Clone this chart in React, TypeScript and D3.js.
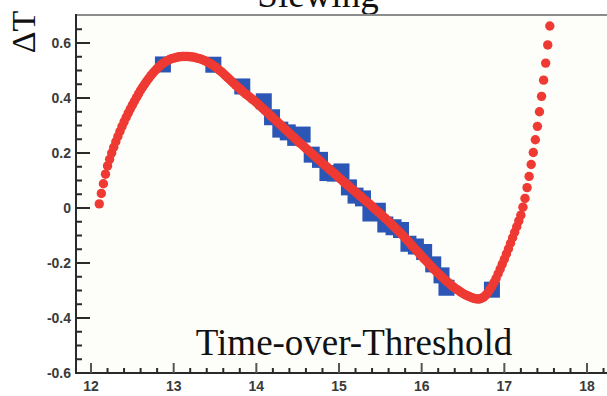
import React from "react";
import * as d3 from "d3";

// Red fitted curve (x = Time-over-Threshold, y = ΔT)
const redPoints: [number, number][] = [
  [12.1, 0.015], [12.125, 0.053], [12.15, 0.088], [12.175, 0.123],
  [12.2, 0.153], [12.225, 0.177], [12.25, 0.2], [12.275, 0.221],
  [12.3, 0.241], [12.325, 0.26], [12.35, 0.278], [12.375, 0.296],
  [12.4, 0.313], [12.425, 0.329], [12.45, 0.345], [12.475, 0.36],
  [12.5, 0.374], [12.525, 0.388], [12.55, 0.402], [12.575, 0.415],
  [12.6, 0.428], [12.625, 0.44], [12.65, 0.451], [12.675, 0.462],
  [12.7, 0.472], [12.725, 0.482], [12.75, 0.491], [12.775, 0.499],
  [12.8, 0.507], [12.825, 0.514], [12.85, 0.521], [12.875, 0.527],
  [12.9, 0.532], [12.925, 0.536], [12.95, 0.54], [12.975, 0.543],
  [13.0, 0.545], [13.025, 0.547], [13.05, 0.549], [13.075, 0.55],
  [13.1, 0.551], [13.125, 0.551], [13.15, 0.551], [13.175, 0.551],
  [13.2, 0.55], [13.225, 0.549], [13.25, 0.548], [13.275, 0.546],
  [13.3, 0.544], [13.325, 0.542], [13.35, 0.539], [13.375, 0.536],
  [13.4, 0.532], [13.425, 0.528], [13.45, 0.524], [13.475, 0.519],
  [13.5, 0.514], [13.525, 0.508], [13.55, 0.502], [13.575, 0.496],
  [13.6, 0.489], [13.625, 0.482], [13.65, 0.475], [13.675, 0.468],
  [13.7, 0.461], [13.725, 0.454], [13.75, 0.447], [13.775, 0.44],
  [13.8, 0.434], [13.825, 0.427], [13.85, 0.42], [13.875, 0.414],
  [13.9, 0.408], [13.925, 0.402], [13.95, 0.396], [13.975, 0.39],
  [14.0, 0.384], [14.025, 0.377], [14.05, 0.37], [14.075, 0.363],
  [14.1, 0.356], [14.125, 0.349], [14.15, 0.342], [14.175, 0.335],
  [14.2, 0.328], [14.225, 0.321], [14.25, 0.314], [14.275, 0.307],
  [14.3, 0.3], [14.325, 0.293], [14.35, 0.286], [14.375, 0.279],
  [14.4, 0.272], [14.425, 0.265], [14.45, 0.258], [14.475, 0.251],
  [14.5, 0.244], [14.525, 0.237], [14.55, 0.231], [14.575, 0.224],
  [14.6, 0.217], [14.625, 0.21], [14.65, 0.204], [14.675, 0.197],
  [14.7, 0.19], [14.725, 0.183], [14.75, 0.177], [14.775, 0.17],
  [14.8, 0.163], [14.825, 0.156], [14.85, 0.15], [14.875, 0.143],
  [14.9, 0.137], [14.925, 0.13], [14.95, 0.124], [14.975, 0.117],
  [15.0, 0.11], [15.025, 0.104], [15.05, 0.097], [15.075, 0.091],
  [15.1, 0.084], [15.125, 0.078], [15.15, 0.071], [15.175, 0.065],
  [15.2, 0.058], [15.225, 0.052], [15.25, 0.045], [15.275, 0.039],
  [15.3, 0.032], [15.325, 0.026], [15.35, 0.019], [15.375, 0.013],
  [15.4, 0.006], [15.425, -0.001], [15.45, -0.008], [15.475, -0.014],
  [15.5, -0.021], [15.525, -0.028], [15.55, -0.035], [15.575, -0.042],
  [15.6, -0.049], [15.625, -0.056], [15.65, -0.063], [15.675, -0.071],
  [15.7, -0.078], [15.725, -0.086], [15.75, -0.093], [15.775, -0.101],
  [15.8, -0.109], [15.825, -0.117], [15.85, -0.125], [15.875, -0.134],
  [15.9, -0.142], [15.925, -0.15], [15.95, -0.158], [15.975, -0.167],
  [16.0, -0.175], [16.025, -0.183], [16.05, -0.191], [16.075, -0.199],
  [16.1, -0.207], [16.125, -0.215], [16.15, -0.223], [16.175, -0.23],
  [16.2, -0.238], [16.225, -0.245], [16.25, -0.252], [16.275, -0.259],
  [16.3, -0.266], [16.325, -0.272], [16.35, -0.279], [16.375, -0.285],
  [16.4, -0.291], [16.425, -0.296], [16.45, -0.301], [16.475, -0.306],
  [16.5, -0.311], [16.525, -0.315], [16.55, -0.319], [16.575, -0.322],
  [16.6, -0.325], [16.625, -0.328], [16.65, -0.33], [16.675, -0.331],
  [16.7, -0.331], [16.725, -0.328], [16.75, -0.324], [16.775, -0.317],
  [16.8, -0.308], [16.825, -0.297], [16.85, -0.285], [16.875, -0.271],
  [16.9, -0.256], [16.925, -0.239], [16.95, -0.222], [16.975, -0.204],
  [17.0, -0.186], [17.025, -0.167], [17.05, -0.148], [17.075, -0.128],
  [17.1, -0.108], [17.125, -0.088], [17.15, -0.068], [17.175, -0.047],
  [17.2, -0.026], [17.225, 0.003], [17.25, 0.035], [17.275, 0.074],
  [17.3, 0.115], [17.325, 0.158], [17.35, 0.202], [17.375, 0.248],
  [17.4, 0.297], [17.425, 0.35], [17.45, 0.406], [17.475, 0.465],
  [17.5, 0.527], [17.525, 0.593], [17.55, 0.662],
];

// Blue measured points (square markers)
const bluePoints: [number, number][] = [
  [12.87, 0.522], [13.48, 0.521], [13.83, 0.442], [14.09, 0.388],
  [14.19, 0.33], [14.29, 0.285], [14.38, 0.275], [14.47, 0.255],
  [14.56, 0.267], [14.67, 0.194], [14.77, 0.175], [14.86, 0.127],
  [14.95, 0.125], [15.03, 0.133], [15.12, 0.075], [15.2, 0.045],
  [15.29, 0.035], [15.38, -0.02], [15.47, -0.01], [15.56, -0.06],
  [15.66, -0.07], [15.75, -0.08], [15.84, -0.13], [15.93, -0.14],
  [16.03, -0.16], [16.14, -0.205], [16.24, -0.245], [16.3, -0.29],
  [16.85, -0.297],
];

const xMajorTicks = [12, 13, 14, 15, 16, 17, 18];
const xTickLabels = ["12", "13", "14", "15", "16", "17", "18"];
const yMajorTicks = [-0.6, -0.4, -0.2, 0, 0.2, 0.4, 0.6];
const yTickLabels = ["-0.6", "-0.4", "-0.2", "0", "0.2", "0.4", "0.6"];

const W = 607;
const H = 396;

export default function App() {
  const x = d3.scaleLinear().domain([12, 18]).range([91, 587]);
  const y = d3.scaleLinear().domain([-0.6, 0.6]).range([373, 43]);

  const left = 76;
  const top = 15;
  const bottom = 373;
  const right = W;

  const xMinor = d3
    .range(0, 32)
    .map((i) => 12 + i * 0.2)
    .filter((v) => v <= 18.25 && Math.abs(v - Math.round(v)) > 0.01);
  const yMinor = d3
    .range(0, 27)
    .map((i) => -0.6 + i * 0.05)
    .filter((v) => v <= 0.68 && Math.abs(v * 5 - Math.round(v * 5)) > 0.01);

  const sq = 16;
  const r = 4.7;

  return (
    <svg
      width={W}
      height={H}
      style={{ position: "fixed", left: 0, top: 0, background: "#ffffff" }}
    >
      <rect x={left} y={top} width={right - left} height={bottom - top} fill="#fdfdfa" />

      {/* Title (cut off at top) */}
      <text
        x={318}
        y={7}
        textAnchor="middle"
        fontFamily="'Liberation Serif', 'DejaVu Serif', serif"
        fontSize={37}
        fill="#111"
      >
        Slewing
      </text>

      {/* blue squares */}
      <g>
        {bluePoints.map(([px, py], i) => (
          <rect
            key={"b" + i}
            x={x(px) - sq / 2}
            y={y(py) - sq / 2}
            width={sq}
            height={sq}
            fill="#2b56b5"
          />
        ))}
      </g>

      {/* red dots */}
      <g>
        {redPoints.map(([px, py], i) => (
          <circle key={"r" + i} cx={x(px)} cy={y(py)} r={r} fill="#ee3a33" />
        ))}
      </g>

      {/* frame */}
      <line x1={left} y1={top} x2={right} y2={top} stroke="#8c8c8c" strokeWidth={2} />
      <line x1={left} y1={top - 1} x2={left} y2={bottom + 1} stroke="#2a2a2a" strokeWidth={2} />
      <line x1={left - 1} y1={bottom} x2={right} y2={bottom} stroke="#2a2a2a" strokeWidth={2} />

      {/* y ticks */}
      {yMajorTicks.map((v, i) => (
        <g key={"ym" + i}>
          <line x1={left} x2={left + 14} y1={y(v)} y2={y(v)} stroke="#2a2a2a" strokeWidth={2} />
          <text
            x={71}
            y={y(v) + 5}
            textAnchor="end"
            fontFamily="'Liberation Sans', Arial, sans-serif"
            fontWeight="bold"
            fontSize={14}
            fill="#3a3a3a"
          >
            {yTickLabels[i]}
          </text>
        </g>
      ))}
      {yMinor.map((v, i) => (
        <line key={"yn" + i} x1={left} x2={left + 6} y1={y(v)} y2={y(v)} stroke="#2a2a2a" strokeWidth={2} />
      ))}

      {/* x ticks */}
      {xMajorTicks.map((v, i) => (
        <g key={"xm" + i}>
          <line x1={x(v)} x2={x(v)} y1={bottom} y2={bottom - 10} stroke="#555" strokeWidth={2} />
          <text
            x={x(v)}
            y={391}
            textAnchor="middle"
            fontFamily="'Liberation Sans', Arial, sans-serif"
            fontWeight="bold"
            fontSize={14}
            fill="#3a3a3a"
          >
            {xTickLabels[i]}
          </text>
        </g>
      ))}
      {xMinor.map((v, i) => (
        <line key={"xn" + i} x1={x(v)} x2={x(v)} y1={bottom} y2={bottom - 5} stroke="#2a2a2a" strokeWidth={2} />
      ))}

      {/* axis titles */}
      <text
        transform={`translate(35, 32) rotate(-90)`}
        textAnchor="middle"
        fontFamily="'Liberation Serif', 'DejaVu Serif', serif"
        fontSize={34}
        fill="#111"
      >
        ΔT
      </text>
      <text
        x={354}
        y={355}
        textAnchor="middle"
        fontFamily="'Liberation Serif', 'DejaVu Serif', serif"
        fontSize={37}
        fill="#111"
      >
        Time-over-Threshold
      </text>
    </svg>
  );
}
